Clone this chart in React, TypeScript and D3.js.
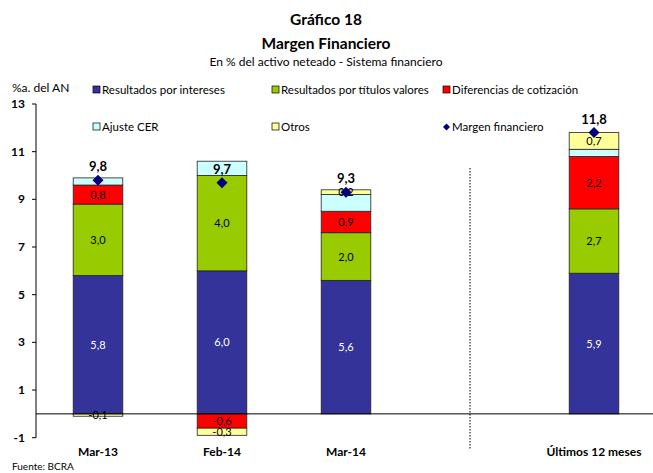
import React from 'react';
import * as d3 from 'd3';

const categories = ['Mar-13', 'Feb-14', 'Mar-14', '', 'Últimos 12 meses'];
const intereses = [5.8, 6.0, 5.6, null, 5.9];
const titulos = [3.0, 4.0, 2.0, null, 2.7];
const diferencias = [0.8, -0.6, 0.9, null, 2.2];
const ajusteCER = [0.3, 0.6, 0.7, null, 0.3];
const otros = [-0.1, -0.3, 0.2, null, 0.7];
const margen = [9.8, 9.7, 9.3, null, 11.8];
const yTicks = [-1, 1, 3, 5, 7, 9, 11, 13];

const seriesInfo = [
	{ key: 'intereses', name: 'Resultados por intereses', values: intereses, color: '#333399', text: '#fff', label: true },
	{ key: 'titulos', name: 'Resultados por títulos valores', values: titulos, color: '#99CC00', text: '#000', label: true },
	{ key: 'diferencias', name: 'Diferencias de cotización', values: diferencias, color: '#FF0000', text: '#000', label: true },
	{ key: 'cer', name: 'Ajuste CER', values: ajusteCER, color: '#CCFFFF', text: '#000', label: false },
	{ key: 'otros', name: 'Otros', values: otros, color: '#FFFF99', text: '#000', label: true },
];

const W = 653;
const H = 473;
const FONT = 'Lato, "Open Sans", sans-serif';
const fmt = (v: number) => v.toFixed(1).replace('.', ',');

// diamond marker built from a d3 path
const diamondPath = (r: number) => {
	const p = d3.path();
	p.moveTo(0, -r);
	p.lineTo(r, 0);
	p.lineTo(0, r);
	p.lineTo(-r, 0);
	p.closePath();
	return p.toString();
};

export default function App() {
	const keys = categories.map((c, i) => `c${i}`);
	const x = d3.scaleBand<string>().domain(keys).range([36, 656]).paddingInner(0.6).paddingOuter(0.3);
	const y = d3.scaleLinear().domain([-1, 13]).range([437.7, 104]);

	const rows = categories.map((c, i) => {
		const r: any = { key: keys[i] };
		seriesInfo.forEach((s) => (r[s.key] = s.values[i] ?? 0));
		return r;
	});
	const stacked = d3
		.stack<any>()
		.keys(seriesInfo.map((s) => s.key))
		.offset(d3.stackOffsetDiverging)(rows);

	const legend = [
		{ label: seriesInfo[0].name, color: seriesInfo[0].color, x: 93, y: 90 },
		{ label: seriesInfo[1].name, color: seriesInfo[1].color, x: 272, y: 90 },
		{ label: seriesInfo[2].name, color: seriesInfo[2].color, x: 443, y: 90 },
		{ label: seriesInfo[3].name, color: seriesInfo[3].color, x: 93, y: 127 },
		{ label: seriesInfo[4].name, color: seriesInfo[4].color, x: 272, y: 127 },
	];

	const cx = (i: number) => (x(keys[i]) ?? 0) + x.bandwidth() / 2;
	const sepX = cx(3);

	return (
		<svg width={W} height={H} style={{ position: 'absolute', left: 0, top: 0, fontFamily: FONT }}>
			<rect width={W} height={H} fill="#fff" />
			<text x={326} y={25} textAnchor="middle" fontSize={15.5} fontWeight="bold">Gráfico 18</text>
			<text x={326} y={49} textAnchor="middle" fontSize={15.5} fontWeight="bold">Margen Financiero</text>
			<text x={326} y={66} textAnchor="middle" fontSize={12}>En % del activo neteado - Sistema financiero</text>
			<text x={12} y={92} fontSize={12}>%a. del AN</text>

			{legend.map((l) => (
				<g key={l.label}>
					<rect x={l.x} y={l.y - 4} width={7} height={7} fill={l.color} stroke="#000" strokeWidth={0.7} />
					<text x={l.x + 9} y={l.y + 4} fontSize={11.5}>{l.label}</text>
				</g>
			))}
			<path d={diamondPath(3.5)} transform="translate(446.5,127)" fill="#000080" />
			<text x={452} y={131} fontSize={11.5}>Margen financiero</text>

			{/* y axis */}
			<line x1={36} x2={36} y1={y(13)} y2={y(-1)} stroke="#000" />
			{yTicks.map((t) => (
				<g key={t}>
					<line x1={32} x2={36} y1={y(t)} y2={y(t)} stroke="#000" />
					<text x={25} y={y(t) + 4} textAnchor="end" fontSize={12} fontWeight="bold">{t}</text>
				</g>
			))}

			<line x1={sepX} x2={sepX} y1={168} y2={450} stroke="#000" strokeDasharray="1.5,1.5" />

			{stacked.map((layer, si) =>
				layer.map((d, i) => {
					const v = seriesInfo[si].values[i];
					if (v == null || v === 0) return null;
					const x0 = x(keys[i]) ?? 0;
					const top = y(Math.max(d[0], d[1]));
					const bot = y(Math.min(d[0], d[1]));
					return (
						<g key={`${si}-${i}`}>
							<rect x={x0} y={top} width={x.bandwidth()} height={bot - top} fill={seriesInfo[si].color} stroke="#222" strokeWidth={0.8} />
							{seriesInfo[si].label && (
								<text x={cx(i)} y={(top + bot) / 2 + 4} textAnchor="middle" fontSize={11} fill={seriesInfo[si].text}>
									{fmt(v)}
								</text>
							)}
						</g>
					);
				})
			)}

			<line x1={36} x2={W} y1={y(0)} y2={y(0)} stroke="#000" />

			{margen.map((m, i) =>
				m == null ? null : (
					<g key={`m${i}`}>
						<path d={diamondPath(5.5)} transform={`translate(${cx(i)},${y(m)})`} fill="#000080" />
						<text x={cx(i)} y={y(m) - 9} textAnchor="middle" fontSize={13} fontWeight="bold">
							{fmt(m)}
						</text>
					</g>
				)
			)}

			{categories.map((c, i) => (
				<text key={`c${i}`} x={cx(i)} y={456} textAnchor="middle" fontSize={12} fontWeight="bold">
					{c}
				</text>
			))}
			<text x={12} y={470} fontSize={10}>Fuente: BCRA</text>
		</svg>
	);
}
